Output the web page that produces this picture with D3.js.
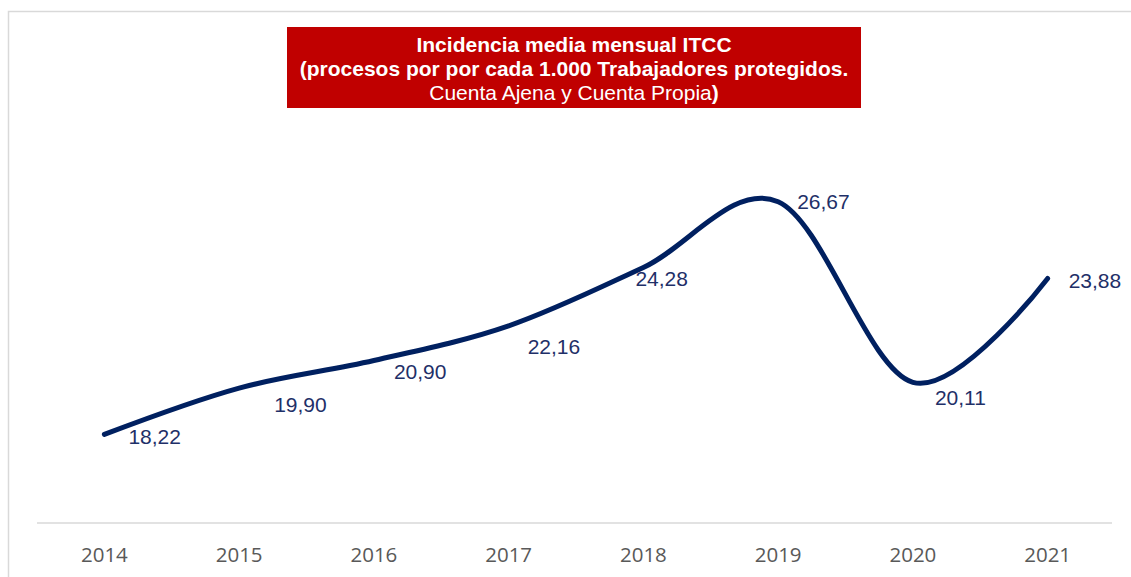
<!DOCTYPE html>
<html>
<head>
<meta charset="utf-8">
<script src="https://d3js.org/d3.v7.min.js"></script>
<style>
  html, body { margin: 0; padding: 0; background: #fff; }
  svg { display: block; }
</style>
</head>
<body>
<svg id="chart" width="1131" height="577"></svg>
<script>
// ── 数据 ─────────────────────────────────────────
const years = ["2014", "2015", "2016", "2017", "2018", "2019", "2020", "2021"];
const incidencia = [18.22, 19.90, 20.90, 22.16, 24.28, 26.67, 20.11, 23.88];
const titleLines = [
    "Incidencia media mensual ITCC",
    "(procesos por por cada 1.000 Trabajadores protegidos.",
];
const titleLast = "Cuenta Ajena y Cuenta Propia";

// label nudges (Excel labels were moved by hand)
const labelNudge = [[24, 2], [35, 17], [20, 11], [19, 21], [-8, 11], [19, 0], [22, 15], [21, 2]];

const svg = d3.select("#chart");
const W = 1131, H = 577;

// chart frame
svg.append("path")
    .attr("d", `M8.5,${H} V11.5 H${W}`)
    .attr("fill", "none")
    .attr("stroke", "#d9d9d9")
    .attr("stroke-width", 1.5);

const x = d3.scaleBand().domain(years).range([37, 1115]);
const y = d3.scaleLinear().domain([15, 30]).range([523, 110]);
const fmt = v => v.toFixed(2).replace(".", ",");

// axis
const xAxis = svg.append("g")
    .attr("transform", "translate(0,523)")
    .call(d3.axisBottom(x).tickSize(0).tickPadding(24));
xAxis.select(".domain").attr("stroke", "#d9d9d9").attr("stroke-width", 1.5)
    .attr("d", "M37,0H1112");
xAxis.selectAll("text")
    .attr("font-family", "'Open Sans', Carlito, sans-serif")
    .attr("font-size", "20.5px")
    .attr("fill", "#595959");

// line
const pts = years.map((yr, i) => [x(yr) + x.bandwidth() / 2, y(incidencia[i])]);
const line = d3.line().curve(d3.curveCardinal.tension(0));
svg.append("path")
    .attr("d", line(pts))
    .attr("fill", "none")
    .attr("stroke", "#002060")
    .attr("stroke-width", 5)
    .attr("stroke-linecap", "round");

// labels
svg.append("g").selectAll("text")
    .data(incidencia)
    .join("text")
    .attr("x", (d, i) => pts[i][0] + labelNudge[i][0])
    .attr("y", (d, i) => pts[i][1] + labelNudge[i][1])
    .attr("dy", "0.35em")
    .attr("font-family", "'Liberation Sans', Arial, sans-serif")
    .attr("font-size", "21px")
    .attr("fill", "#1f3068")
    .text(fmt);

// title box
const tb = svg.append("g");
tb.append("rect")
    .attr("x", 287).attr("y", 27).attr("width", 574).attr("height", 81)
    .attr("fill", "#c00000");
titleLines.forEach((t, i) => {
    tb.append("text")
        .attr("x", 574).attr("y", 52 + i * 24)
        .attr("text-anchor", "middle")
        .attr("font-family", "'Liberation Sans', Arial, sans-serif")
        .attr("font-weight", "bold")
        .attr("font-size", "21px")
        .attr("fill", "#fff")
        .text(t);
});
const last = tb.append("text")
    .attr("x", 574).attr("y", 100)
    .attr("text-anchor", "middle")
    .attr("font-family", "'Liberation Sans', Arial, sans-serif")
    .attr("font-size", "21px")
    .attr("fill", "#fff");
last.append("tspan").text(titleLast);
last.append("tspan").attr("font-weight", "bold").text(")");
</script>
</body>
</html>
